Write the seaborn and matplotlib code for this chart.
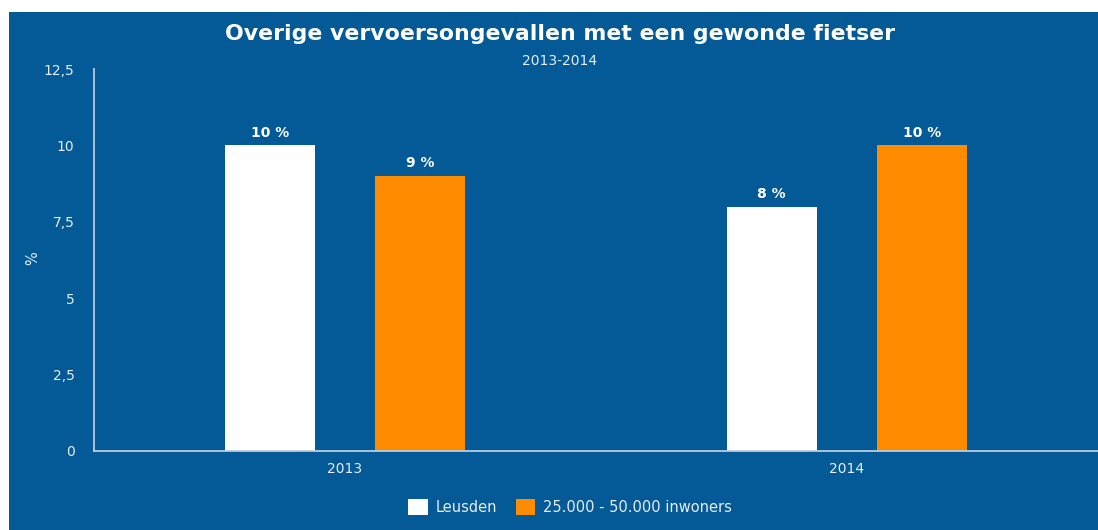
import pandas as pd
import seaborn as sns
import matplotlib.pyplot as plt
from matplotlib.patches import Rectangle
from matplotlib.ticker import FuncFormatter

# Chart data
years = ["2013", "2014"]
leusden = [10, 8]
inwoners = [9, 10]
series_names = ["Leusden", "25.000 - 50.000 inwoners"]

bg_blue = "#035a96"
palette = ["#ffffff", "#ff8c00"]
text_col = "#e6edf4"

df = pd.DataFrame({
    "jaar": years * 2,
    "waarde": leusden + inwoners,
    "reeks": [series_names[0]] * len(years) + [series_names[1]] * len(years),
})

sns.set_style("white")
plt.rcParams['font.family'] = ['DejaVu Sans']

fig = plt.figure(figsize=(10.98, 5.30), dpi=100)
fig.patch.set_facecolor("white")
# blue panel, with a thin white margin on the top and left
fig.patches.append(Rectangle((9 / 1098, 0), 1 - 9 / 1098, (530 - 12) / 530,
                             transform=fig.transFigure, facecolor=bg_blue,
                             edgecolor="none", zorder=-10))

ax = fig.add_axes([94 / 1098, 79 / 530, 1 - 94 / 1098, (451 - 69) / 530])
ax.set_facecolor(bg_blue)
ax.patch.set_alpha(0)

sns.barplot(data=df, x="jaar", y="waarde", hue="reeks", palette=palette,
            width=0.6, gap=0.4, ax=ax, saturation=1, errorbar=None, linewidth=0)

for cont in ax.containers:
    ax.bar_label(cont, labels=[f"{v:g} %" for v in cont.datavalues],
                 padding=4, color="white", fontsize=10, fontweight="bold")

ax.set_xlim(-0.5, 1.5)
ax.set_ylim(0, 12.5)
ax.set_yticks([0, 2.5, 5, 7.5, 10, 12.5])
ax.yaxis.set_major_formatter(FuncFormatter(lambda v, p: f"{v:g}".replace(".", ",")))
ax.tick_params(axis="y", length=0, pad=14, labelsize=10, labelcolor=text_col)
ax.tick_params(axis="x", length=0, pad=8, labelsize=10, labelcolor=text_col)
ax.set_xlabel("")
ax.set_ylabel("%", color=text_col, fontsize=10.5)
ax.yaxis.set_label_coords(-54 / 1004, 0.505)

sns.despine(ax=ax)
for side in ["left", "bottom"]:
    ax.spines[side].set_color("#b9cde0")
    ax.spines[side].set_linewidth(1.3)

fig.text(0.51, 1 - 34 / 530, "Overige vervoersongevallen met een gewonde fietser",
         ha="center", va="center", color="white", fontsize=15.8, fontweight="bold")
fig.text(0.51, 1 - 61 / 530, "2013-2014", ha="center", va="center",
         color=text_col, fontsize=10)

handles, labels = ax.get_legend_handles_labels()
ax.legend_.remove()
leg = fig.legend(handles, labels, loc="center", bbox_to_anchor=(0.519, 1 - 507 / 530),
                 ncol=2, frameon=False, fontsize=10.5, handlelength=1.35, handleheight=1.35,
                 columnspacing=1.3, handletextpad=0.5)
for t in leg.get_texts():
    t.set_color(text_col)

fig.savefig("out.png", dpi=100, facecolor=fig.get_facecolor())
